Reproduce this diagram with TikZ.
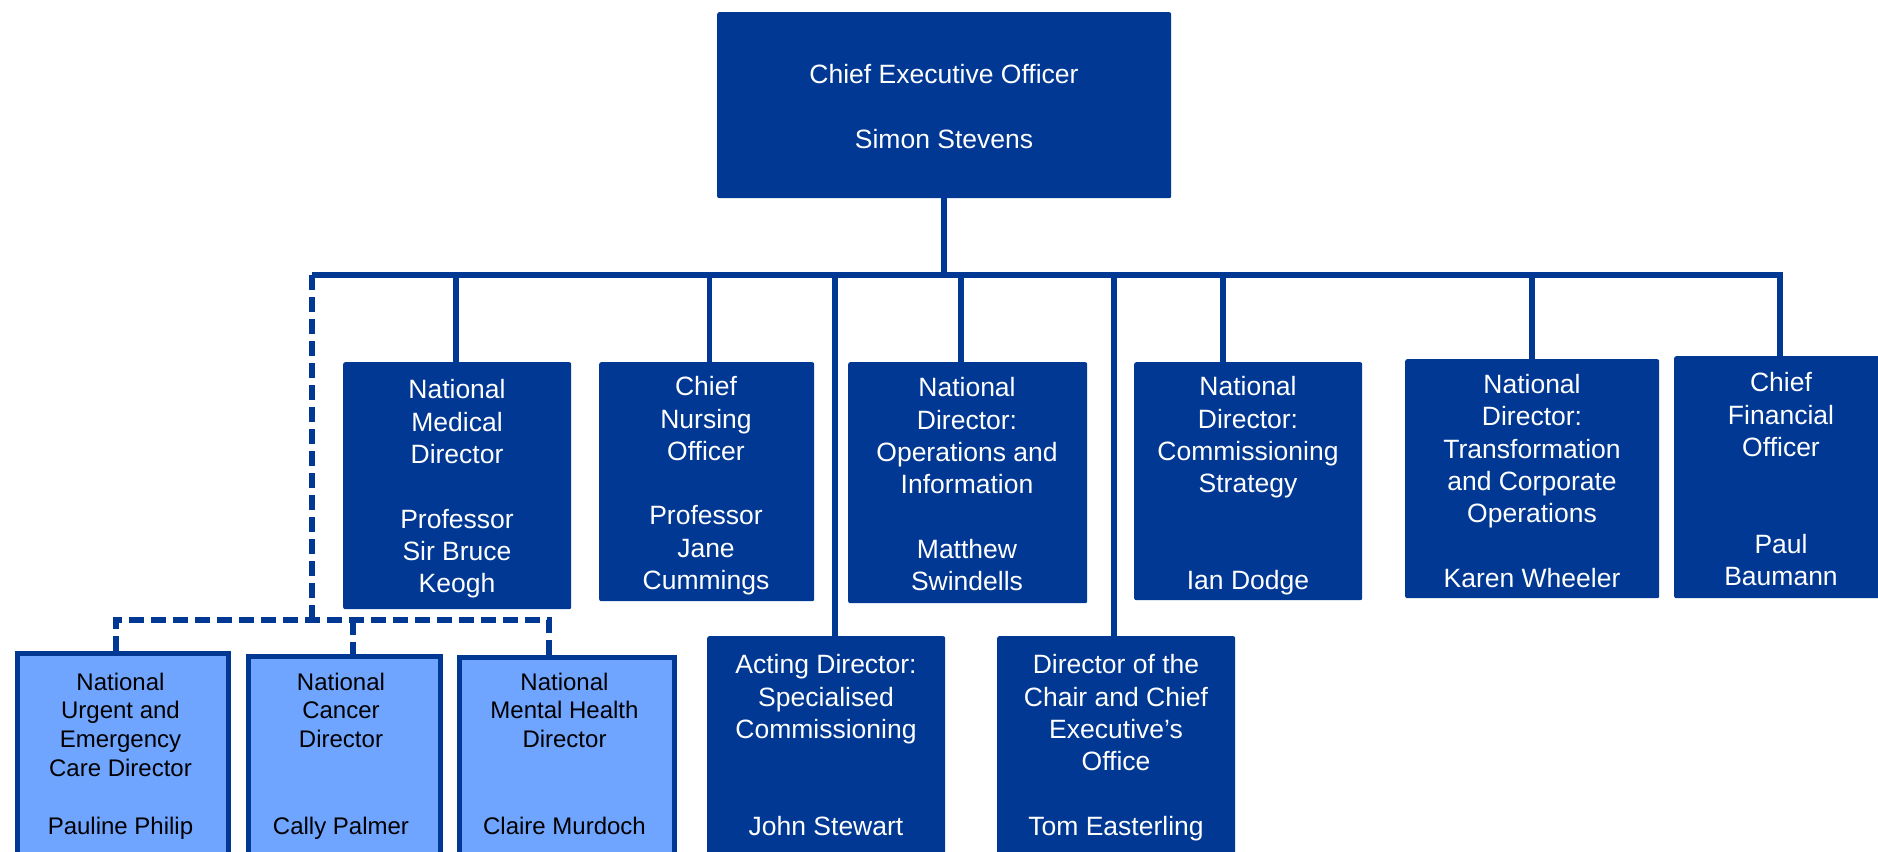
\documentclass[tikz,border=0pt]{standalone}
\usepackage{fontspec}
\setmainfont{Liberation Sans}
\definecolor{nhs}{RGB}{0,56,147}
\definecolor{lite}{RGB}{111,164,255}
\newcommand\dsz{\fontsize{26.5}{32.3}\selectfont}
\newcommand\lsz{\fontsize{24}{28.8}\selectfont}
\newcommand\myskipA{\\[32.3pt]}
\newcommand\myskipB{\\[64.6pt]}
\newcommand\myskipL{\\[28.8pt]}
\newcommand\myskipLL{\\[57.6pt]}
\pgfdeclarelayer{bg}
\pgfsetlayers{bg,main}
\begin{document}
\begin{tikzpicture}[x=1pt,y=-1pt,
  dbox/.style={fill=nhs, draw=none, rounded corners=2pt, inner sep=0pt, anchor=north west},
  lbox/.style={fill=lite, draw=nhs, line width=4.5pt, inner sep=0pt, anchor=north west},
  wtxt/.style={text=white, font=\dsz, align=center, inner sep=0pt, anchor=north},
  ktxt/.style={text=black, font=\lsz, align=center, inner sep=0pt, anchor=north},
  conn/.style={draw=nhs, line width=5.5pt},
  dconn/.style={draw=nhs, line width=5.5pt, dash pattern=on 15pt off 7pt}
]
\useasboundingbox (0,0) rectangle (1878,851);
\clip (0,0) rectangle (1878,851);

% boxes
\node[dbox, minimum width=454, minimum height=186] (ceo) at (717,12) {};
\node[dbox, minimum width=228, minimum height=247] (med) at (343,362) {};
\node[dbox, minimum width=215, minimum height=239] (nur) at (599,362) {};
\node[dbox, minimum width=239, minimum height=241] (ops) at (848,362) {};
\node[dbox, minimum width=228, minimum height=238] (com) at (1134,362) {};
\node[dbox, minimum width=254, minimum height=239] (trn) at (1405,359) {};
\node[dbox, minimum width=214, minimum height=242] (cfo) at (1674,356) {};
\node[dbox, minimum width=238, minimum height=230] (act) at (707,636) {};
\node[dbox, minimum width=238, minimum height=230] (chr) at (997,636) {};
\node[lbox, minimum width=211, minimum height=220] (lA) at (15,651) {};
\node[lbox, minimum width=192, minimum height=220] (lB) at (246,654) {};
\node[lbox, minimum width=215, minimum height=220] (lC) at (457,655) {};

% texts
\node[wtxt] (tceo) at (944,64.3) {Chief Executive Officer\myskipA Simon Stevens};
\node[wtxt] (tmed) at (457,379.5) {National\\Medical\\Director\myskipA Professor\\Sir Bruce\\Keogh};
\node[wtxt] (tnur) at (706,376.3) {Chief\\Nursing\\Officer\myskipA Professor\\Jane\\Cummings};
\node[wtxt] (tops) at (967,377.3) {National\\Director:\\Operations and\\Information\myskipA Matthew\\Swindells};
\node[wtxt] (tcom) at (1248,376.3) {National\\Director:\\Commissioning\\Strategy\myskipB Ian Dodge};
\node[wtxt] (ttrn) at (1532,374) {National\\Director:\\Transformation\\and Corporate\\Operations\myskipA Karen Wheeler};
\node[wtxt] (tcfo) at (1781,372.3) {Chief\\Financial\\Officer\myskipB Paul\\Baumann};
\node[wtxt] (tact) at (826,654.3) {Acting Director:\\Specialised\\Commissioning\myskipB John Stewart};
\node[wtxt] (tchr) at (1116,654.3) {Director of the\\Chair and Chief\\Executive’s\\Office\myskipA Tom Easterling};
\node[ktxt] (tlA) at (120.5,672.4) {National\\Urgent and\\Emergency\\Care Director\myskipL Pauline Philip};
\node[ktxt] (tlB) at (341,672.4) {National\\Cancer\\Director\myskipLL Cally Palmer};
\node[ktxt] (tlC) at (564.5,672.4) {National\\Mental Health\\Director\myskipLL Claire Murdoch};

% junction coordinates
\coordinate (bL) at (312,275);
\coordinate (bR) at (1780,275);
\coordinate (jMed) at (456,275);
\coordinate (jNur) at (709.5,275);
\coordinate (jAct) at (835,275);
\coordinate (jOps) at (961,275);
\coordinate (jChr) at (1114,275);
\coordinate (jCom) at (1223,275);
\coordinate (jTrn) at (1532,275);
\coordinate (dV) at (312,620);
\coordinate (dL) at (116,620);
\coordinate (dM) at (353,620);
\coordinate (dR) at (549,620);

\begin{pgfonlayer}{bg}
\fill[white] (0,0) rectangle (1878,851);
\draw[conn] (ceo.south) -- (ceo.south |- bL);
\draw[conn, line join=miter] (bL) -- (bR) -- (bR |- cfo.north);
\foreach \j/\b in {jMed/med, jNur/nur, jAct/act, jOps/ops, jChr/chr, jCom/com, jTrn/trn}
  \draw[conn] (\j) -- (\j |- \b.north);
\draw[dconn] (bL) -- (dV);
\draw[dconn, line join=miter] (dL |- lA.north) -- (dL) -- (dR) -- (dR |- lC.north);
\draw[dconn] (dM) -- (dM |- lB.north);
\end{pgfonlayer}
\end{tikzpicture}
\end{document}
